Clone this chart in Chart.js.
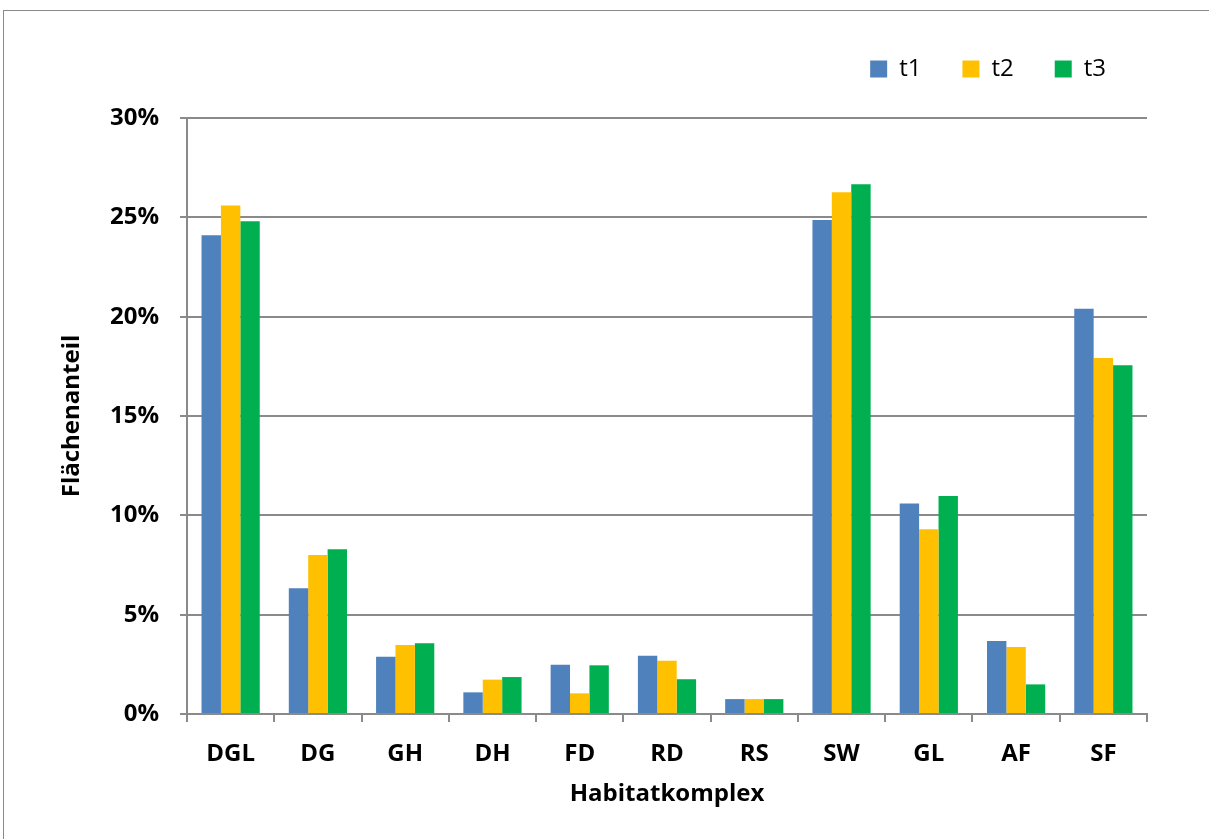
<!DOCTYPE html>
<html>
<head>
<meta charset="utf-8">
<script src="https://cdn.jsdelivr.net/npm/chart.js@4.4.1/dist/chart.umd.min.js"></script>
<style>
  html, body { margin: 0; padding: 0; background: #fff; overflow: hidden; }
  #wrap { position: relative; width: 1209px; height: 839px; }
  #chart { position: absolute; left: 0; top: 0; }
  #frame {
    position: absolute; left: 3px; top: 10px; width: 1400px; height: 1000px;
    border-left: 1.5px solid #8a8a8a; border-top: 1.5px solid #8a8a8a;
    pointer-events: none;
  }
</style>
</head>
<body>
<div id="wrap">
  <canvas id="chart" width="1209" height="839"></canvas>
  <div id="frame"></div>
</div>
<script>
const categories = ["DGL", "DG", "GH", "DH", "FD", "RD", "RS", "SW", "GL", "AF", "SF"];
const seriesNames = ["t1", "t2", "t3"];
const t1Values = [24.1, 6.33, 2.88, 1.09, 2.48, 2.93, 0.75, 24.86, 10.6, 3.67, 20.4];
const t2Values = [25.6, 8.0, 3.47, 1.73, 1.04, 2.68, 0.75, 26.26, 9.3, 3.37, 17.92];
const t3Values = [24.8, 8.29, 3.56, 1.86, 2.45, 1.75, 0.75, 26.67, 10.97, 1.49, 17.55];
const yTicks = [0, 5, 10, 15, 20, 25, 30];

const colors = ["#4F81BD", "#FFC000", "#00B050"];
const gridColor = "#8a8a8a";
const fontFamily = "'Open Sans', Lato, sans-serif";

// fix the legend height so the plot area starts where it should
const legendHeight = {
  id: "legendHeight",
  beforeInit(chart) {
    const origFit = chart.legend.fit;
    chart.legend.fit = function () {
      origFit.bind(chart.legend)();
      this.height = 102;
    };
  },
};

new Chart(document.getElementById("chart"), {
  type: "bar",
  data: {
    labels: categories,
    datasets: [t1Values, t2Values, t3Values].map((values, i) => ({
      label: seriesNames[i],
      data: values,
      backgroundColor: colors[i],
      categoryPercentage: 0.667,
      barPercentage: 1.0,
    })),
  },
  options: {
    responsive: false,
    animation: false,
    layout: { padding: { top: 16, left: 50, right: 62, bottom: 10 } },
    plugins: {
      tooltip: { enabled: false },
      legend: {
        position: "top",
        align: "end",
        labels: {
          color: "#000",
          font: { family: fontFamily, size: 24 },
          boxWidth: 17,
          boxHeight: 17,
          padding: 41,
        },
      },
    },
    scales: {
      x: {
        offset: true,
        grid: {
          offset: true,
          drawOnChartArea: false,
          drawTicks: true,
          tickLength: 8,
          color: gridColor,
          lineWidth: 2,
        },
        border: { color: gridColor, width: 2 },
        ticks: {
          color: "#000",
          font: { family: fontFamily, size: 24, weight: "bold" },
          padding: 18,
          maxRotation: 0,
        },
        title: {
          display: true,
          text: "Habitatkomplex",
          color: "#000",
          font: { family: fontFamily, size: 24, weight: "bold" },
          padding: { top: 0, bottom: 20 },
        },
        afterFit(scale) {
          scale.height = 115;
        },
      },
      y: {
        min: 0,
        max: 30,
        afterBuildTicks(scale) {
          scale.ticks = yTicks.map((v) => ({ value: v }));
        },
        grid: {
          color: gridColor,
          lineWidth: 2,
          drawTicks: true,
          tickLength: 7,
        },
        border: { color: gridColor, width: 2 },
        ticks: {
          color: "#000",
          font: { family: fontFamily, size: 24, weight: "bold" },
          padding: 21,
          callback: (v) => v + "%",
        },
        title: {
          display: true,
          text: "Flächenanteil",
          color: "#000",
          font: { family: fontFamily, size: 24, weight: "bold" },
          padding: { top: 8, bottom: 0 },
        },
        afterFit(scale) {
          scale.width = 137;
        },
      },
    },
  },
  plugins: [legendHeight],
});
</script>
</body>
</html>
